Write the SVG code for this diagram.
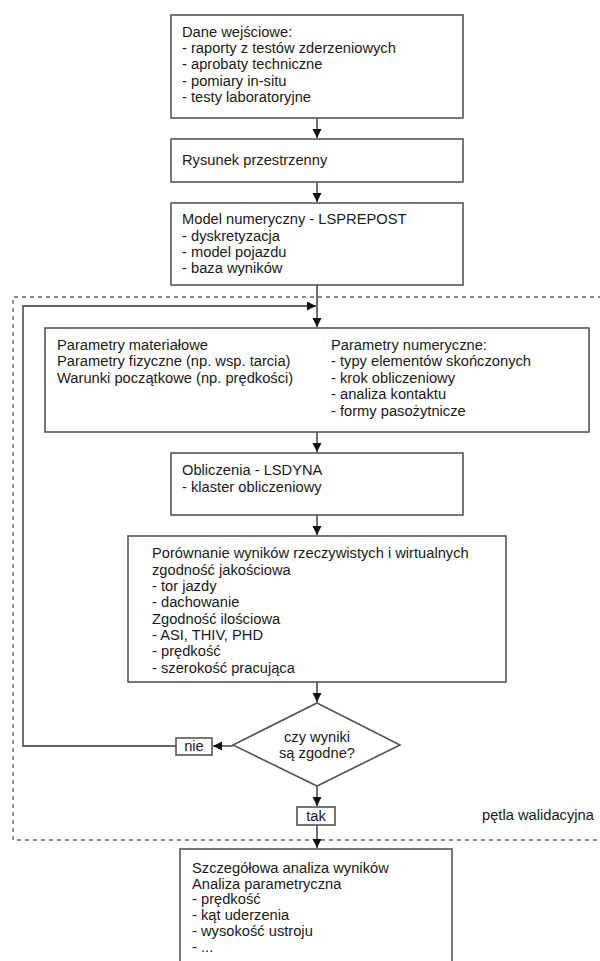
<svg xmlns="http://www.w3.org/2000/svg" width="600" height="961" viewBox="0 0 600 961">
<style>
.box{fill:#fff;stroke:#555;stroke-width:1.6}
.t{font-family:"Liberation Sans",Arial,sans-serif;font-size:14.7px;fill:#1a1a1a}
.c{fill:none;stroke:#333;stroke-width:1.4}
.d{fill:none;stroke:#666;stroke-width:1.4;stroke-dasharray:4 4}
</style>
<defs>
<marker id="ah" markerUnits="userSpaceOnUse" markerWidth="10" markerHeight="10" refX="9" refY="4.5" orient="auto">
<path d="M0,0 L9,4.5 L0,9 z" fill="#111"/>
</marker>
</defs>
<rect width="600" height="961" fill="#fff"/>
<g id="loop-frame">
<path class="d" d="M602,297 H13 V840 H602"/>
<text class="t" x="482" y="820">pętla walidacyjna</text>
</g>
<g id="connectors">
<path class="c" d="M317,118 V138" marker-end="url(#ah)"/>
<path class="c" d="M317,182 V202" marker-end="url(#ah)"/>
<path class="c" d="M317,285 V327" marker-end="url(#ah)"/>
<path class="c" d="M317,328 V432"/>
<path class="c" d="M317,432 V452" marker-end="url(#ah)"/>
<path class="c" d="M317,515 V535" marker-end="url(#ah)"/>
<path class="c" d="M317,682 V702" marker-end="url(#ah)"/>
<path class="c" d="M233,746 H213" marker-end="url(#ah)"/>
<path class="c" d="M176,746 H23 V306 H316" marker-end="url(#ah)"/>
<path class="c" d="M317,786 V806" marker-end="url(#ah)"/>
<path class="c" d="M317,825 V848" marker-end="url(#ah)"/>
</g>
<g id="n1">
<rect class="box" x="171" y="15" width="292" height="103"/>
<text class="t" x="182" y="37">Dane wejściowe:</text>
<text class="t" x="182" y="53">- raporty z testów zderzeniowych</text>
<text class="t" x="182" y="69">- aprobaty techniczne</text>
<text class="t" x="182" y="86">- pomiary in-situ</text>
<text class="t" x="182" y="102">- testy laboratoryjne</text>
</g>
<g id="n2">
<rect class="box" x="171" y="139" width="292" height="43"/>
<text class="t" x="182" y="165">Rysunek przestrzenny</text>
</g>
<g id="n3">
<rect class="box" x="171" y="203" width="292" height="82"/>
<text class="t" x="182" y="224">Model numeryczny - LSPREPOST</text>
<text class="t" x="182" y="241">- dyskretyzacja</text>
<text class="t" x="182" y="257">- model pojazdu</text>
<text class="t" x="182" y="273">- baza wyników</text>
</g>
<g id="n4">
<rect class="box" x="45" y="328" width="544" height="104"/>
<text class="t" x="57" y="350">Parametry materiałowe</text>
<text class="t" x="57" y="366">Parametry fizyczne (np. wsp. tarcia)</text>
<text class="t" x="57" y="383">Warunki początkowe (np. prędkości)</text>
<text class="t" x="331" y="350">Parametry numeryczne:</text>
<text class="t" x="331" y="366">- typy elementów skończonych</text>
<text class="t" x="331" y="383">- krok obliczeniowy</text>
<text class="t" x="331" y="399">- analiza kontaktu</text>
<text class="t" x="331" y="416">- formy pasożytnicze</text>
</g>
<g id="n5">
<rect class="box" x="171" y="453" width="292" height="62"/>
<text class="t" x="182" y="475">Obliczenia - LSDYNA</text>
<text class="t" x="182" y="492">- klaster obliczeniowy</text>
</g>
<g id="n6">
<rect class="box" x="128" y="536" width="378" height="146"/>
<text class="t" x="152" y="558">Porównanie wyników rzeczywistych i wirtualnych</text>
<text class="t" x="152" y="575">zgodność jakościowa</text>
<text class="t" x="152" y="591">- tor jazdy</text>
<text class="t" x="152" y="607">- dachowanie</text>
<text class="t" x="152" y="624">Zgodność ilościowa</text>
<text class="t" x="152" y="640">- ASI, THIV, PHD</text>
<text class="t" x="152" y="656">- prędkość</text>
<text class="t" x="152" y="673">- szerokość pracująca</text>
</g>
<g id="n7">
<path class="box" d="M317,703 L400,745 L317,786 L233,745 Z"/>
<text class="t" x="317" y="742" text-anchor="middle">czy wyniki</text>
<text class="t" x="317" y="758" text-anchor="middle">są zgodne?</text>
</g>
<g id="n8">
<rect class="box" x="176" y="738" width="36" height="17"/>
<text class="t" x="194" y="751" text-anchor="middle">nie</text>
</g>
<g id="n9">
<rect class="box" x="297" y="807" width="38" height="18"/>
<text class="t" x="316" y="821" text-anchor="middle">tak</text>
</g>
<g id="n10">
<rect class="box" x="180" y="849" width="272" height="115"/>
<text class="t" x="192" y="873">Szczegółowa analiza wyników</text>
<text class="t" x="192" y="889">Analiza parametryczna</text>
<text class="t" x="192" y="904">- prędkość</text>
<text class="t" x="192" y="920">- kąt uderzenia</text>
<text class="t" x="192" y="936">- wysokość ustroju</text>
<text class="t" x="192" y="952">- ...</text>
</g>
</svg>
